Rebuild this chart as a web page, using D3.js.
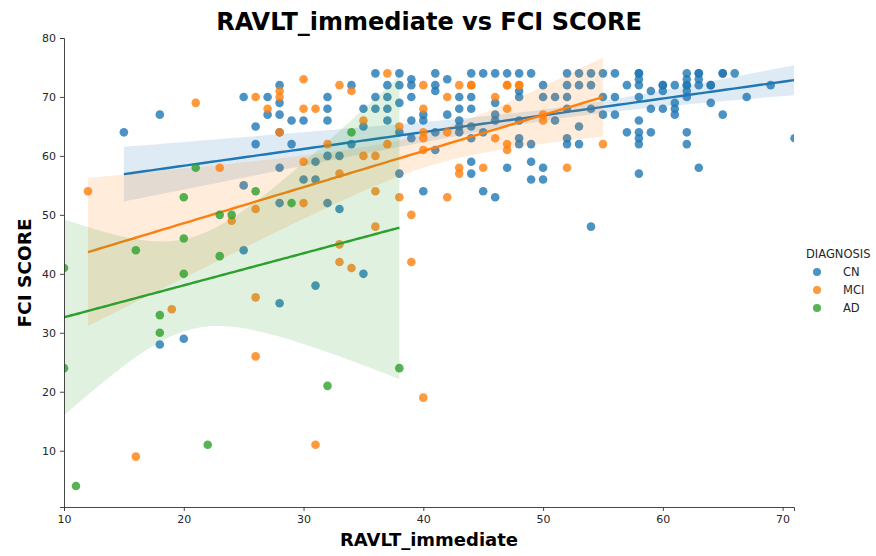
<!DOCTYPE html>
<html>
<head>
<meta charset="utf-8">
<script src="https://cdn.jsdelivr.net/npm/d3@7"></script>
<style>
  body { margin: 0; background: #fff; }
  text { font-family: "DejaVu Sans", sans-serif; }
</style>
</head>
<body>
<svg id="chart" width="876" height="556"></svg>
<script>
// 数据: [RAVLT_immediate, FCI SCORE]
const cnData = [
  [15,64],[18,67],[18,28],[20,29],[25,70],[25,55],[25,44],[26,65],[26,62],[27,70],[27,67],
  [28,72],[28,69],[28,67],[28,64],[28,58],[28,52],[28,35],[29,66],[29,62],[30,66],[30,56],
  [31,59],[31,56],[31,38],[32,70],[32,68],[32,66],[32,60],[32,52],[33,60],[33,51],[34,72],
  [34,62],[35,68],[35,65],[35,40],[36,74],[36,70],[36,68],[37,72],[37,70],[37,68],[37,66],
  [38,74],[38,72],[38,69],[38,64],[38,57],[39,73],[39,72],[39,70],[39,66],[39,63],[40,67],
  [40,66],[40,54],[41,74],[41,72],[41,71],[41,64],[41,61],[42,73],[42,67],[43,70],[43,68],
  [43,66],[43,65],[43,64],[44,74],[44,70],[44,68],[44,65],[44,63],[44,59],[44,57],[45,74],
  [45,64],[45,54],[46,74],[46,69],[46,67],[46,66],[46,53],[47,74],[47,58],[48,74],[48,71],
  [48,70],[48,66],[48,63],[48,62],[49,74],[49,62],[49,59],[49,56],[50,72],[50,70],[50,58],
  [50,56],[51,70],[51,66],[52,74],[52,72],[52,70],[52,68],[52,63],[52,62],[53,74],[53,72],
  [53,65],[53,62],[54,74],[54,72],[54,68],[54,48],[55,74],[55,70],[55,67],[56,74],[56,70],
  [56,67],[57,72],[57,64],[58,74],[58,74],[58,73],[58,72],[58,70],[58,66],[58,64],[58,63],
  [58,62],[58,57],[59,71],[59,68],[59,64],[60,72],[60,72],[60,71],[60,68],[61,72],[61,69],
  [61,68],[61,67],[62,74],[62,73],[62,72],[62,72],[62,71],[62,70],[62,64],[62,62],[63,74],
  [63,74],[63,73],[63,72],[63,58],[64,72],[64,72],[64,69],[65,74],[65,74],[65,67],[66,74],
  [67,70],[69,72],[71,63]
];
const mciData = [
  [12,54],[16,9],[19,34],[21,69],[23,58],[24,49],[26,70],[26,51],[26,36],[26,26],[27,68],
  [28,71],[28,70],[28,64],[30,73],[30,68],[30,59],[30,52],[31,68],[31,11],[32,62],[33,72],
  [33,57],[33,45],[33,42],[34,71],[34,41],[35,66],[35,60],[36,60],[36,54],[36,48],[37,74],
  [37,62],[38,65],[38,53],[39,50],[39,42],[40,72],[40,68],[40,64],[40,63],[40,61],[40,19],
  [42,70],[42,64],[42,53],[43,72],[43,58],[43,57],[44,72],[44,72],[45,58],[46,70],[46,63],
  [47,72],[47,72],[47,68],[47,62],[47,61],[48,72],[48,72],[50,67],[50,66],[52,58],[55,62]
];
const adData = [
  [10,41],[10,24],[11,4],[16,44],[18,33],[18,30],[20,53],[20,46],[20,40],[21,58],[22,11],
  [23,50],[23,43],[24,50],[26,54],[29,52],[32,21],[34,64],[38,24]
];

const groups = ["CN", "MCI", "AD"];
const groupColors = ["#1f77b4", "#ff7f0e", "#2ca02c"];
const xTicks = [10, 20, 30, 40, 50, 60, 70];
const yTicks = [10, 20, 30, 40, 50, 60, 70, 80];

// t分布临界值(近似)
function tCrit(df) {
    return 1.96 + 2.4 / df;
}

// 线性回归, 置信带用稳健(HC2)标准误, 接近seaborn的bootstrap
function fitLine(data) {
    const n = data.length;
    const mx = d3.mean(data, d => d[0]);
    const my = d3.mean(data, d => d[1]);
    let sxx = 0, sxy = 0;
    data.forEach(d => {
        sxx += (d[0] - mx) * (d[0] - mx);
        sxy += (d[0] - mx) * (d[1] - my);
    });
    const b = sxy / sxx;
    const a = my - b * mx;

    let sw = 0, swu = 0, swuu = 0;
    data.forEach(d => {
        const u = d[0] - mx;
        const e = d[1] - (a + b * d[0]);
        const h = 1 / n + u * u / sxx;
        const w = e * e / (1 - h);
        sw += w;
        swu += w * u;
        swuu += w * u * u;
    });
    const v00 = sw / (n * n);
    const v01 = swu / (n * sxx);
    const v11 = swuu / (sxx * sxx);
    const t = tCrit(n - 2);

    const [x0, x1] = d3.extent(data, d => d[0]);
    // 在 x 范围内取100个点
    return d3.range(100).map(i => {
        const x = x0 + (x1 - x0) * i / 99;
        const u = x - mx;
        const yhat = a + b * x;
        const se = Math.sqrt(v00 + 2 * u * v01 + u * u * v11);
        return { x: x, y: yhat, lo: yhat - t * se, hi: yhat + t * se };
    });
}

const svg = d3.select("#chart");
const margin = { top: 38, right: 82, bottom: 49, left: 64 };
const width = 876 - margin.left - margin.right;
const height = 556 - margin.top - margin.bottom;

const xScale = d3.scaleLinear().domain([10, 70.95]).range([0, width]);
const yScale = d3.scaleLinear().domain([0.45, 80]).range([height, 0]);

svg.append("defs").append("clipPath").attr("id", "plotClip")
    .append("rect").attr("width", width).attr("height", height);

const chart = svg.append("g")
    .attr("transform", `translate(${margin.left},${margin.top})`);

const plot = chart.append("g").attr("clip-path", "url(#plotClip)");

const area = d3.area()
    .x(d => xScale(d.x))
    .y0(d => yScale(d.lo))
    .y1(d => yScale(d.hi));

const line = d3.line()
    .x(d => xScale(d.x))
    .y(d => yScale(d.y));

[cnData, mciData, adData].forEach((data, gi) => {
    const color = groupColors[gi];

    plot.append("g").selectAll("circle")
        .data(data)
        .join("circle")
        .attr("cx", d => xScale(d[0]))
        .attr("cy", d => yScale(d[1]))
        .attr("r", 4.3)
        .attr("fill", color)
        .attr("fill-opacity", 0.8);

    const fit = fitLine(data);

    plot.append("path")
        .datum(fit)
        .attr("fill", color)
        .attr("fill-opacity", 0.15)
        .attr("d", area);

    plot.append("path")
        .datum(fit)
        .attr("fill", "none")
        .attr("stroke", color)
        .attr("stroke-width", 2.4)
        .attr("d", line);
});

// 坐标轴
const xAxis = chart.append("g")
    .attr("transform", `translate(0,${height})`)
    .call(d3.axisBottom(xScale).tickValues(xTicks).tickSize(4).tickPadding(4));

const yAxis = chart.append("g")
    .call(d3.axisLeft(yScale).tickValues(yTicks).tickSize(4).tickPadding(4));

[xAxis, yAxis].forEach(ax => {
    ax.select(".domain").attr("stroke", "#333").attr("stroke-width", 0.9);
    ax.selectAll(".tick line").attr("stroke", "#333").attr("stroke-width", 0.9);
    ax.selectAll(".tick text")
        .style("font-family", "DejaVu Sans, sans-serif")
        .style("font-size", "11px")
        .attr("fill", "#262626");
});

// 标题与轴标签
svg.append("text")
    .attr("x", 429)
    .attr("y", 30)
    .attr("text-anchor", "middle")
    .style("font-size", "24px")
    .style("font-weight", "bold")
    .text("RAVLT_immediate vs FCI SCORE");

svg.append("text")
    .attr("x", 429)
    .attr("y", 546)
    .attr("text-anchor", "middle")
    .style("font-size", "18px")
    .style("font-weight", "bold")
    .text("RAVLT_immediate");

svg.append("text")
    .attr("transform", "translate(31,273) rotate(-90)")
    .attr("text-anchor", "middle")
    .style("font-size", "18.5px")
    .style("font-weight", "bold")
    .text("FCI SCORE");

// 图例
const legend = svg.append("g").attr("transform", "translate(806,258)");
legend.append("text")
    .attr("x", 0)
    .attr("y", 0)
    .style("font-size", "11.5px")
    .attr("fill", "#262626")
    .text("DIAGNOSIS");

groups.forEach((g, i) => {
    const row = legend.append("g").attr("transform", `translate(0,${18 + i * 18})`);
    row.append("circle")
        .attr("cx", 11)
        .attr("cy", -4)
        .attr("r", 4)
        .attr("fill", groupColors[i])
        .attr("fill-opacity", 0.8);
    row.append("text")
        .attr("x", 37)
        .attr("y", 0)
        .style("font-size", "11.5px")
        .attr("fill", "#262626")
        .text(g);
});
</script>
</body>
</html>
